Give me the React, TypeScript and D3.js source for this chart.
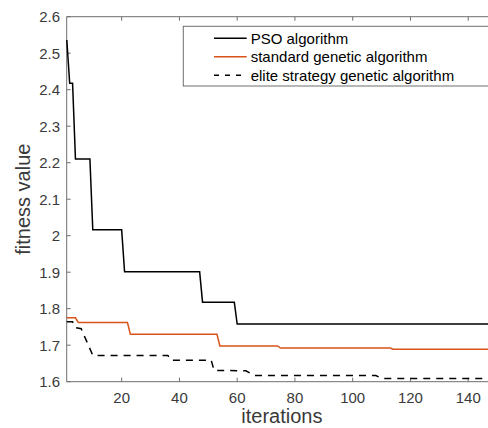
import React, { useEffect, useRef } from 'react';
import * as d3 from 'd3';

// breakpoints: [iteration, fitness]
const psoPoints: [number, number][] = [
  [1, 2.536], [2, 2.418], [3, 2.418], [4, 2.21], [9, 2.21], [10, 2.016],
  [20, 2.016], [21, 1.901], [47, 1.901], [48, 1.818], [59, 1.818], [60, 1.758],
  [150, 1.758],
];
const standardGaPoints: [number, number][] = [
  [1, 1.775], [4, 1.775], [5, 1.762], [22, 1.762], [23, 1.73], [53, 1.73],
  [54, 1.698], [74, 1.698], [75, 1.692], [113, 1.692], [114, 1.689], [150, 1.689],
];
const eliteGaPoints: [number, number][] = [
  [1, 1.764], [3, 1.764], [4, 1.748], [6, 1.745], [10, 1.672], [36, 1.672],
  [37, 1.659], [51, 1.659], [52, 1.631], [63, 1.63], [66, 1.617], [108, 1.617],
  [110, 1.609], [150, 1.609],
];

const seriesNames = ['PSO algorithm', 'standard genetic algorithm', 'elite strategy genetic algorithm'];
const xTicks = [20, 40, 60, 80, 100, 120, 140];
const yTicks = [1.6, 1.7, 1.8, 1.9, 2, 2.1, 2.2, 2.3, 2.4, 2.5, 2.6];

const W = 488;
const H = 428;

const App = () => {
  const svgRef = useRef<SVGSVGElement>(null);

  useEffect(() => {
    const svg = d3.select(svgRef.current);
    svg.selectAll('*').remove();

    const font = 'Liberation Sans, Arial, Helvetica, sans-serif';
    const axisColor = '#6e6e6e';
    const textColor = '#3a3a3a';

    // plot box (right edge falls outside the cropped picture)
    const left = 66.7, top = 16.7, bottom = 381.7;
    const x = d3.scaleLinear().domain([1, 150]).range([66.8, 497.1]);
    const y = d3.scaleLinear().domain([1.6, 2.6]).range([bottom, top]);

    const g = svg.append('g');

    // axes lines
    g.append('line').attr('x1', left).attr('x2', W + 10).attr('y1', top).attr('y2', top)
      .attr('stroke', axisColor).attr('stroke-width', 1);
    g.append('line').attr('x1', left).attr('x2', W + 10).attr('y1', bottom).attr('y2', bottom)
      .attr('stroke', axisColor).attr('stroke-width', 1);
    g.append('line').attr('x1', left).attr('x2', left).attr('y1', top).attr('y2', bottom)
      .attr('stroke', axisColor).attr('stroke-width', 1);

    // x ticks (inward, top and bottom)
    xTicks.forEach(t => {
      g.append('line').attr('x1', x(t)).attr('x2', x(t)).attr('y1', bottom).attr('y2', bottom - 4)
        .attr('stroke', axisColor);
      g.append('line').attr('x1', x(t)).attr('x2', x(t)).attr('y1', top).attr('y2', top + 4)
        .attr('stroke', axisColor);
      g.append('text').attr('x', x(t)).attr('y', bottom + 21)
        .attr('text-anchor', 'middle').style('font-family', font).style('font-size', '15px')
        .style('fill', textColor).text(String(t));
    });

    // y ticks
    yTicks.forEach(t => {
      g.append('line').attr('x1', left).attr('x2', left + 4).attr('y1', y(t)).attr('y2', y(t))
        .attr('stroke', axisColor);
      g.append('text').attr('x', 60).attr('y', y(t)).attr('dy', '0.36em')
        .attr('text-anchor', 'end').style('font-family', font).style('font-size', '15px')
        .style('fill', textColor).text(d3.format('~g')(t));
    });

    // axis labels
    g.append('text').attr('x', (left + 497.1) / 2).attr('y', 423)
      .attr('text-anchor', 'middle').style('font-family', font).style('font-size', '20px')
      .style('fill', textColor).text('iterations');
    g.append('text').attr('transform', `translate(30, ${(top + bottom) / 2}) rotate(-90)`)
      .attr('text-anchor', 'middle').style('font-family', font).style('font-size', '20px')
      .style('fill', textColor).text('fitness value');

    const line = d3.line<[number, number]>().x(d => x(d[0])).y(d => y(d[1]));

    const series = [
      { points: psoPoints, color: '#000000', dash: null },
      { points: standardGaPoints, color: '#d95319', dash: null },
      { points: eliteGaPoints, color: '#000000', dash: '7,6' },
    ];

    series.forEach(s => {
      g.append('path').datum(s.points)
        .attr('d', line).attr('fill', 'none')
        .attr('stroke', s.color).attr('stroke-width', 1.5)
        .attr('stroke-dasharray', s.dash);
    });

    // legend
    const legend = g.append('g');
    legend.append('rect').attr('x', 183.3).attr('y', 26.3).attr('width', 311).attr('height', 59.7)
      .attr('fill', '#fff').attr('stroke', axisColor).attr('stroke-width', 1);
    const rowY = [38.3, 56.7, 75.3];
    series.forEach((s, i) => {
      legend.append('line').attr('x1', 214).attr('x2', 246.7).attr('y1', rowY[i]).attr('y2', rowY[i])
        .attr('stroke', s.color).attr('stroke-width', 1.5).attr('stroke-dasharray', s.dash ? '5,6' : null);
      legend.append('text').attr('x', 250.7).attr('y', rowY[i]).attr('dy', '0.36em')
        .style('font-family', font).style('font-size', '15px').style('fill', '#000')
        .text(seriesNames[i]);
    });
  }, []);

  return (
    <svg ref={svgRef} width={W} height={H}
      style={{ position: 'absolute', left: 0, top: 0, background: '#fff' }} />
  );
};

export default App;
